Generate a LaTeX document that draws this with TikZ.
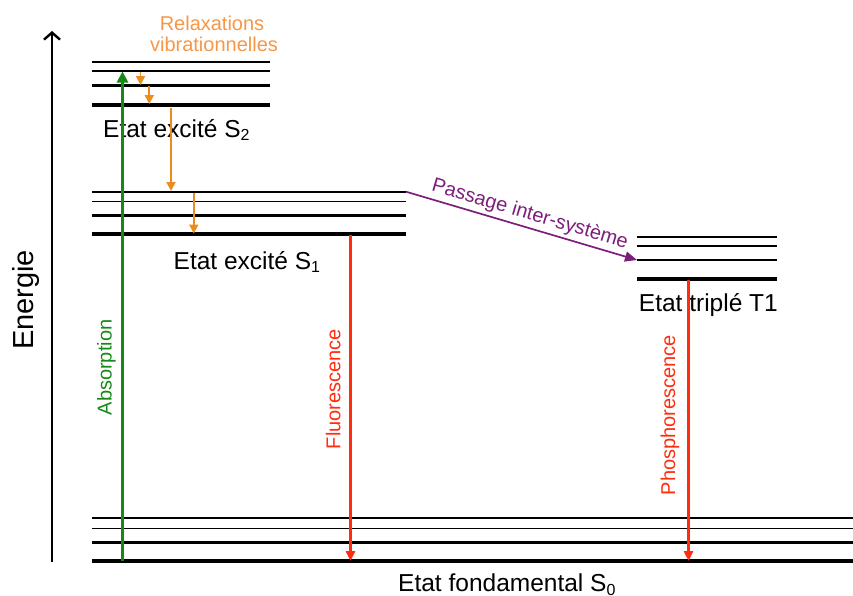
\documentclass[tikz,border=0pt]{standalone}
\usepackage{fontspec}
\setmainfont{Liberation Sans}
\usetikzlibrary{arrows.meta}
\definecolor{absgreen}{RGB}{22,138,22}
\definecolor{relaxorange}{RGB}{236,140,28}
\definecolor{lightorange}{RGB}{246,150,70}
\definecolor{emred}{RGB}{255,45,15}
\definecolor{iscpurple}{RGB}{125,30,125}
\newcommand{\subtxt}[1]{\raisebox{-0.3ex}{\fontsize{16}{18}\selectfont #1}}
\begin{document}
\begin{tikzpicture}[x=1pt,y=-1pt,
  lvA/.style={line width=1.7pt},
  lvB/.style={line width=1.2pt},
  lvC/.style={line width=2.6pt},
  lvD/.style={line width=4pt},
  biglbl/.style={font=\fontsize{24.5}{28}\selectfont, inner sep=0pt, anchor=base west},
  smalllbl/.style={font=\fontsize{20}{23}\selectfont, inner sep=0pt},
  absarrow/.style={draw=absgreen, line width=3pt, -{Triangle[length=11pt,width=11pt]}},
  relarrow/.style={draw=relaxorange, line width=1.8pt, -{Triangle[length=9pt,width=9pt]}},
  emarrow/.style={draw=emred, line width=3pt, -{Triangle[length=10pt,width=9pt]}},
  iscarrow/.style={draw=iscpurple, line width=1.7pt, -{Triangle[length=12pt,width=10pt]}},
  axisarrow/.style={draw=black, line width=1.4pt, -{Straight Barb[length=7pt,width=16pt,line width=2.4pt]}}
]
\useasboundingbox (0,0) rectangle (853,595);

% energy axis
\coordinate (axB) at (52,562);
\coordinate (axT) at (52,31);
\draw[axisarrow] (axB) -- (axT);
\node[font=\fontsize{29}{32}\selectfont, rotate=90, inner sep=0pt] (energie) at (26,300) {Energie};

% S2 levels
\draw[lvA] (92,61.7) -- (270,61.7);
\draw[lvB] (92,71) -- (270,71);
\draw[lvC] (92,85.3) -- (270,85.3);
\draw[lvD] (92,104.5) -- (270,104.5);

% S1 levels
\draw[lvA] (92,191.7) -- (406,191.7);
\draw[lvB] (92,201.3) -- (406,201.3);
\draw[lvC] (92,215.3) -- (406,215.3);
\draw[lvD] (92,234.3) -- (406,234.3);

% T1 levels
\draw[lvA] (637,236.7) -- (777,236.7);
\draw[lvB] (637,246) -- (777,246);
\draw[lvC] (637,260) -- (777,260);
\draw[lvD] (637,279.3) -- (777,279.3);

% S0 levels
\draw[lvA] (92,518.3) -- (853,518.3);
\draw[lvB] (92,528.3) -- (853,528.3);
\draw[lvC] (92,542.3) -- (853,542.3);
\draw[lvD] (92,561.3) -- (853,561.3);

% state labels
\node[biglbl] (s2lbl) at (103,137) {Etat excité S\subtxt{2}};
\node[biglbl] (s1lbl) at (173.5,269) {Etat excité S\subtxt{1}};
\node[biglbl] (t1lbl) at (638.7,311.7) {Etat triplé T1};
\node[biglbl] (s0lbl) at (398,591.5) {Etat fondamental S\subtxt{0}};

% vibrational relaxation label
\node[smalllbl, text=lightorange, anchor=base] (relax1) at (212,30.7) {Relaxations};
\node[smalllbl, text=lightorange, anchor=base] (relax2) at (214,51.7) {vibrationnelles};

% absorption
\coordinate (absS) at (122.5,561);
\coordinate (absE) at (122.5,71.5);
\draw[absarrow] (absS) -- (absE);
\node[smalllbl, text=absgreen, rotate=90] (abslbl) at (106.5,367.5) {Absorption};

% relaxation arrows
\coordinate (r1s) at (140.5,72); \coordinate (r1e) at (140.5,85);
\coordinate (r2s) at (149.3,86); \coordinate (r2e) at (149.3,104);
\coordinate (r3s) at (171,108); \coordinate (r3e) at (171,191);
\coordinate (r4s) at (193.8,193); \coordinate (r4e) at (193.8,233.5);
\draw[relarrow] (r1s) -- (r1e);
\draw[relarrow] (r2s) -- (r2e);
\draw[relarrow] (r3s) -- (r3e);
\draw[relarrow] (r4s) -- (r4e);

% fluorescence
\coordinate (fluS) at (350.5,235);
\coordinate (fluE) at (350.5,561);
\draw[emarrow] (fluS) -- (fluE);
\node[smalllbl, text=emred, rotate=90] (flulbl) at (333.3,389) {Fluorescence};

% phosphorescence
\coordinate (phoS) at (688.5,280);
\coordinate (phoE) at (688.5,561);
\draw[emarrow] (phoS) -- (phoE);
\node[smalllbl, text=emred, rotate=90] (pholbl) at (670,415) {Phosphorescence};

% inter-system crossing
\coordinate (iscS) at (406,191.7);
\coordinate (iscE) at (637,260);
\draw[iscarrow] (iscS) -- node[pos=0.52, sloped, above, smalllbl, text=iscpurple, inner sep=3pt] (isclbl) {Passage inter-système} (iscE);
\end{tikzpicture}
\end{document}
